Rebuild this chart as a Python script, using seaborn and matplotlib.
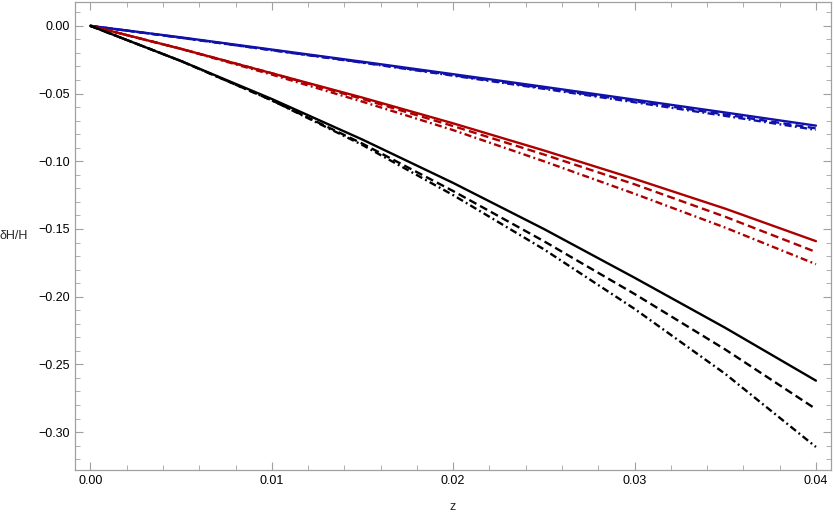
import matplotlib
matplotlib.use("Agg")
import matplotlib.pyplot as plt
from matplotlib.ticker import MultipleLocator, FuncFormatter
import pandas as pd
import seaborn as sns

Z = [0.0, 0.005, 0.01, 0.015, 0.02, 0.025, 0.03, 0.035, 0.04]

BLUE_SOLID = [0, -0.0085, -0.0175, -0.0265, -0.0357, -0.0450, -0.0545, -0.0640, -0.0737]
BLUE_DASHED = [0, -0.0088, -0.0179, -0.0270, -0.0364, -0.0459, -0.0556, -0.0655, -0.0757]
BLUE_DASHDOT = [0, -0.0088, -0.0180, -0.0272, -0.0368, -0.0465, -0.0564, -0.0665, -0.0768]

RED_SOLID = [0, -0.017, -0.035, -0.053, -0.072, -0.092, -0.113, -0.135, -0.159]
RED_DASHED = [0, -0.017, -0.035, -0.054, -0.074, -0.095, -0.117, -0.141, -0.167]
RED_DASHDOT = [0, -0.017, -0.036, -0.056, -0.077, -0.100, -0.124, -0.149, -0.176]

BLACK_SOLID = [0, -0.026, -0.054, -0.084, -0.116, -0.150, -0.186, -0.223, -0.262]
BLACK_DASHED = [0, -0.026, -0.055, -0.087, -0.122, -0.159, -0.198, -0.239, -0.283]
BLACK_DASHDOT = [0, -0.026, -0.055, -0.088, -0.125, -0.165, -0.209, -0.257, -0.311]

SERIES = {
    ("blue", "solid"): BLUE_SOLID,
    ("blue", "dashed"): BLUE_DASHED,
    ("blue", "dashdot"): BLUE_DASHDOT,
    ("red", "solid"): RED_SOLID,
    ("red", "dashed"): RED_DASHED,
    ("red", "dashdot"): RED_DASHDOT,
    ("black", "solid"): BLACK_SOLID,
    ("black", "dashed"): BLACK_DASHED,
    ("black", "dashdot"): BLACK_DASHDOT,
}

PALETTE = {"blue": "#1010aa", "red": "#ad0000", "black": "#000000"}
DASHES = {"solid": "", "dashed": (3.4, 1.8), "dashdot": (3.0, 1.4, 0.8, 1.4)}
FRAME = "#a0a0a0"


def main():
    sns.set_style("ticks")
    plt.rcParams["font.family"] = ["Liberation Sans", "DejaVu Sans"]

    rows = []
    for (grp, var), vals in SERIES.items():
        for z, v in zip(Z, vals):
            rows.append({"z": z, "dH": v, "group": grp, "variant": var})
    df = pd.DataFrame(rows)

    fig = plt.figure(figsize=(8.34, 5.13), dpi=100)
    ax = fig.add_axes([0.0899, 0.0838, 0.9065, 0.912])

    sns.lineplot(data=df, x="z", y="dH", hue="group", style="variant",
                 palette=PALETTE, dashes=DASHES, linewidth=1.7,
                 legend=False, ax=ax, sort=False)

    ax.set_xlim(-0.00085, 0.04083)
    ax.set_ylim(-0.328, 0.0175)

    ax.xaxis.set_major_locator(MultipleLocator(0.01))
    ax.xaxis.set_minor_locator(MultipleLocator(0.002))
    ax.yaxis.set_major_locator(MultipleLocator(0.05))
    ax.yaxis.set_minor_locator(MultipleLocator(0.01))

    fmt = FuncFormatter(lambda v, p: f"{v:.2f}".replace("-0.00", "0.00").replace("-", "\u2212"))
    ax.xaxis.set_major_formatter(FuncFormatter(lambda v, p: f"{v:.2f}"))
    ax.yaxis.set_major_formatter(fmt)

    ax.tick_params(which="both", direction="in", top=True, right=True,
                   color=FRAME, labelcolor="black", labelsize=9)
    ax.tick_params(which="major", length=6, width=0.8)
    ax.tick_params(which="minor", length=3.5, width=0.6)
    for s in ax.spines.values():
        s.set_color(FRAME)
        s.set_linewidth(0.9)

    ax.set_xlabel("z", fontsize=9)
    ax.xaxis.set_label_coords(0.5, -0.066)
    ax.set_ylabel("\u03b4H/H", rotation=0, fontsize=9, ha="center", va="center")
    ax.yaxis.set_label_coords(-0.081, 0.5)

    fig.savefig("out.png", dpi=100)
    plt.close(fig)


if __name__ == "__main__":
    main()
